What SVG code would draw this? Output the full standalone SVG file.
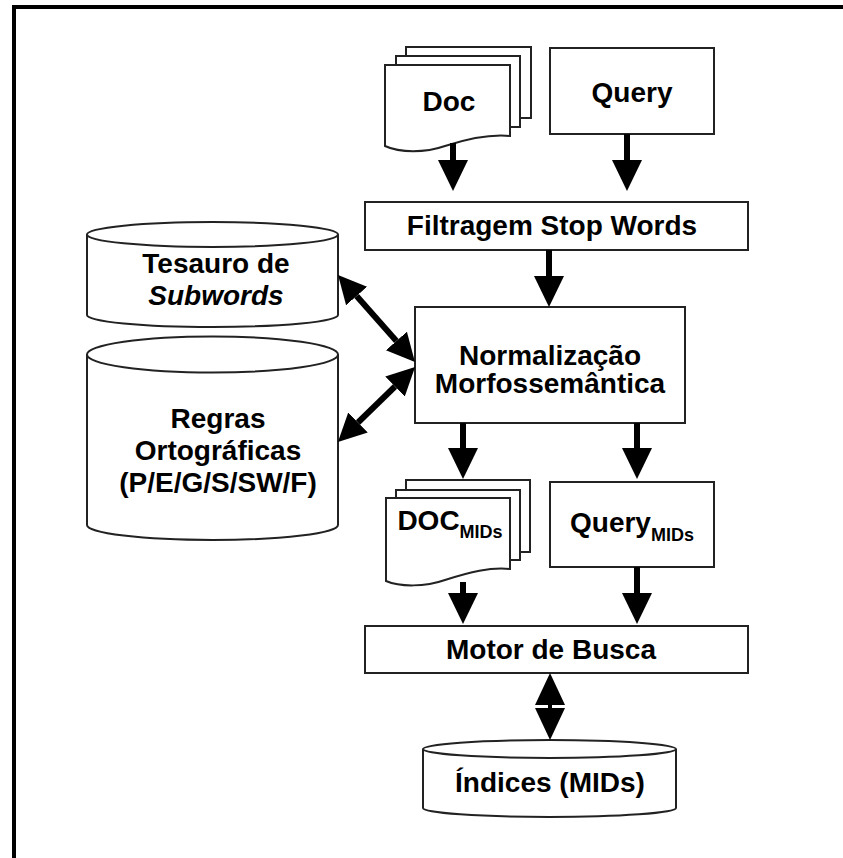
<svg xmlns="http://www.w3.org/2000/svg" width="843" height="858" viewBox="0 0 843 858">
<style>
.box{fill:#fff;stroke:#222;stroke-width:2}
.t{font-family:"Liberation Sans",Arial,sans-serif;font-weight:bold;font-size:28px;fill:#000;text-anchor:middle}
.sub{font-size:18px}
.it{font-style:italic}
.sh{fill:none;stroke:#000;stroke-width:6}
.dg{fill:none;stroke:#000;stroke-width:6}
</style>
<defs>
<marker id="ah" markerUnits="userSpaceOnUse" markerWidth="32" markerHeight="32" refX="0" refY="15" orient="auto-start-reverse" viewBox="0 0 32 32">
<path d="M0,0 L31,15 L0,30 Z" fill="#000"/>
</marker>
<marker id="ah2" markerUnits="userSpaceOnUse" markerWidth="30" markerHeight="30" refX="0" refY="14" orient="auto-start-reverse" viewBox="0 0 30 30">
<path d="M0,0 L28,14 L0,28 Z" fill="#000"/>
</marker>
</defs>
<rect width="843" height="858" fill="#fff"/>
<path d="M14,858 V7 H843" fill="none" stroke="#000" stroke-width="4"/>

<g id="doc">
<rect class="box" x="406" y="47" width="125" height="71"/>
<rect class="box" x="396" y="56" width="124" height="71"/>
<path class="box" d="M385,65 H510 V136 C490,134 470,138 445,146 C425,153 400,153 385,146 Z"/>
<text class="t" x="449" y="111">Doc</text>
</g>

<g id="query">
<rect class="box" x="550" y="48" width="164" height="86"/>
<text class="t" x="632" y="102">Query</text>
</g>

<g id="filtragem">
<rect class="box" x="365" y="202" width="383" height="48"/>
<text class="t" x="552" y="235">Filtragem Stop Words</text>
</g>

<g id="tesauro">
<path class="box" d="M87,234.5 V315 A125.5,12 0 0 0 338,315 V234.5"/>
<ellipse class="box" cx="212.5" cy="234.5" rx="125.5" ry="12.5"/>
<text class="t" x="216" y="273">Tesauro de</text>
<text class="t it" x="216" y="305">Subwords</text>
</g>

<g id="regras">
<path class="box" d="M87,354.5 V525 A125.5,15 0 0 0 338,525 V354.5"/>
<ellipse class="box" cx="212.5" cy="354.5" rx="125.5" ry="18"/>
<text class="t" x="218" y="428">Regras</text>
<text class="t" x="218" y="460">Ortográficas</text>
<text class="t" x="218" y="492">(P/E/G/S/SW/F)</text>
</g>

<g id="normalizacao">
<rect class="box" x="415" y="307" width="270" height="116"/>
<text class="t" x="550" y="365">Normalização</text>
<text class="t" x="550" y="393">Morfossemântica</text>
</g>

<g id="docmids">
<rect class="box" x="406" y="480" width="124" height="72"/>
<rect class="box" x="396" y="490" width="124" height="70"/>
<path class="box" d="M386,498 H510 V569 C490,567 470,572 445,580 C425,587 400,587 386,581 Z"/>
<text class="t" x="450" y="530">DOC<tspan class="sub" dy="8">MIDs</tspan></text>
</g>

<g id="querymids">
<rect class="box" x="550" y="482" width="164" height="85"/>
<text class="t" x="632" y="532">Query<tspan class="sub" dy="9">MIDs</tspan></text>
</g>

<g id="motor">
<rect class="box" x="365" y="626" width="383" height="47"/>
<text class="t" x="551" y="659">Motor de Busca</text>
</g>

<g id="indices">
<path class="box" d="M423,749 V808 A126.5,9 0 0 0 676,808 V749"/>
<ellipse class="box" cx="549.5" cy="749" rx="126.5" ry="9"/>
<text class="t" x="550" y="792">Índices (MIDs)</text>
</g>

<g id="connectors">
<path class="sh" d="M453,143 V160" marker-end="url(#ah)"/>
<path class="sh" d="M627,134 V160" marker-end="url(#ah)"/>
<path class="sh" d="M549,250 V276" marker-end="url(#ah)"/>
<path class="sh" d="M463,423 V448" marker-end="url(#ah)"/>
<path class="sh" d="M637,423 V448" marker-end="url(#ah)"/>
<path class="sh" d="M463,582 V593" marker-end="url(#ah)"/>
<path class="sh" d="M637,567 V593" marker-end="url(#ah)"/>
<path class="dg" d="M356.6,296 L396.4,341" marker-start="url(#ah2)" marker-end="url(#ah2)"/>
<path class="dg" d="M395,386.5 L358,422.5" marker-start="url(#ah2)" marker-end="url(#ah2)"/>
<polygon points="550,673 565,705 535,705" fill="#000"/>
<polygon points="550,740 565,708 535,708" fill="#000"/>
<line x1="550" y1="704" x2="550" y2="709" stroke="#000" stroke-width="4"/>
</g>
</svg>
